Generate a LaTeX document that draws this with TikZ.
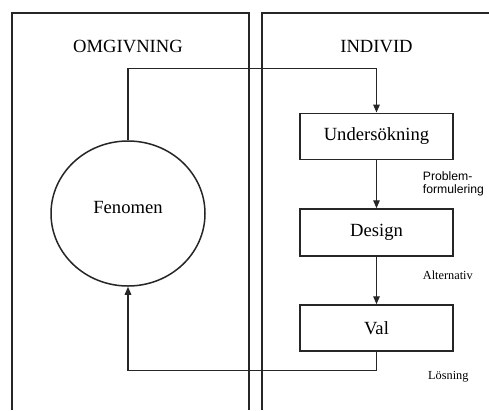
\documentclass[tikz,border=0pt]{standalone}
\usepackage{fontspec}
\setmainfont{Liberation Serif}
\newfontfamily\labelsans{Liberation Sans}
\usetikzlibrary{arrows.meta,shapes.geometric}

\begin{document}
\begin{tikzpicture}[x=1pt,y=1pt,
  frame/.style={line width=1.5pt, draw=black!85},
  link/.style={line width=1.4pt, draw=black!85, -{Triangle[length=8pt,width=6.5pt]}},
  stepbox/.style={draw=black!85, line width=1.5pt, rectangle, minimum width=153pt,
    minimum height=46pt, inner sep=0pt, font=\fontsize{18.6}{22}\selectfont},
  title/.style={font=\fontsize{18.6}{22}\selectfont, anchor=base, inner sep=0pt},
  note/.style={font=\fontsize{12.3}{14}\selectfont, anchor=base west, inner sep=0pt},
  sidenote/.style={font=\labelsans\fontsize{12.2}{13.5}\selectfont, anchor=north west,
    align=left, inner sep=0pt}]

\useasboundingbox[fill=white] (0,0) rectangle (489,-410);

% the two panels, open towards the bottom and the right
\draw[frame] (12,-410) -- (12,-13) -- (249,-13) -- (249,-410);
\draw[frame] (262,-410) -- (262,-13) -- (489,-13);

\node[title] (omg) at (128,-52) {OMGIVNING};
\node[title] (ind) at (376.5,-52) {INDIVID};

% the phenomenon in the surroundings
\node[ellipse, draw=black!85, line width=1.5pt, minimum width=154pt, minimum height=145pt,
  inner sep=0pt] (fen) at (128,-213.5) {};
\node[title] (fentext) at (128,-213) {Fenomen};

% the individual's steps
\node[stepbox] (und) at (376.5,-136.3) {Undersökning};
\node[stepbox, minimum height=47pt] (des) at (376.5,-232.5) {Design};
\node[stepbox] (val) at (376.5,-328) {Val};

\coordinate (topturn) at (376.5,-68.5);
\coordinate (botturn) at (376.5,-370.5);

\draw[link] (fen.north) |- (topturn) -- (und.north);
\draw[link] (und.south) -- (des.north);
\draw[link] (des.south) -- (val.north);
\draw[link] (val.south) -- (botturn) -| (fen.south);

\node[sidenote] (prob) at (422.7,-171) {Problem-\\formulering};
\node[note] (alt) at (422.7,-279) {Alternativ};
\node[note] (los) at (428,-379) {Lösning};

\end{tikzpicture}
\end{document}
